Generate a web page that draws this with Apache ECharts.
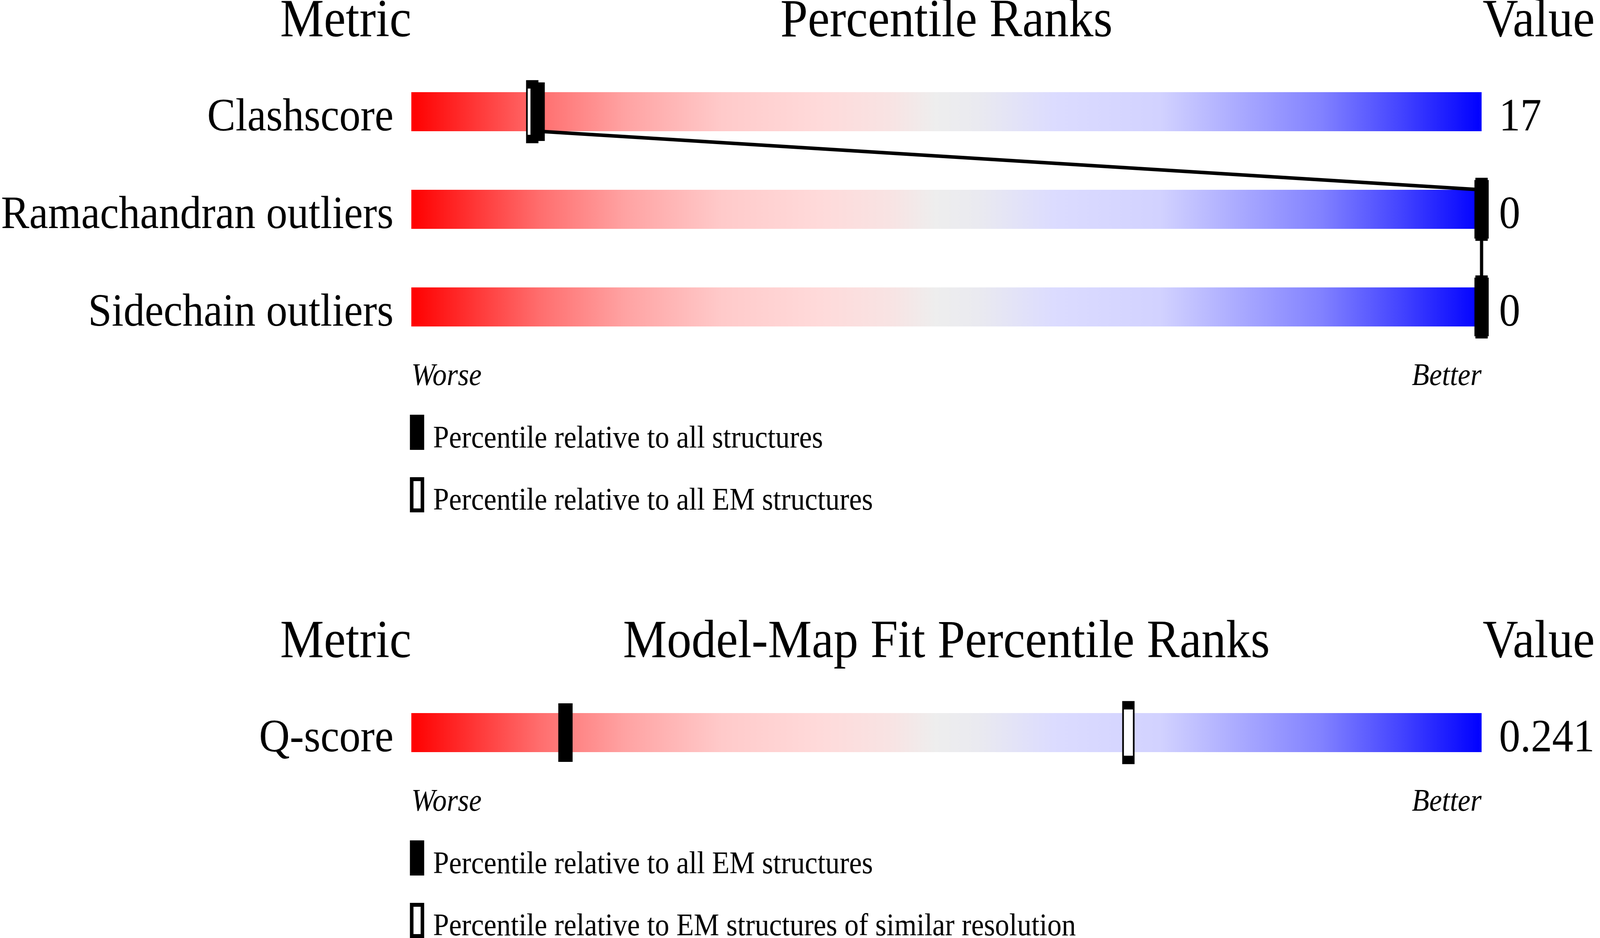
<!DOCTYPE html>
<html>
<head>
<meta charset="utf-8">
<script src="https://cdn.jsdelivr.net/npm/echarts@6/dist/echarts.min.js"></script>
<style>html,body{margin:0;padding:0;background:#fff;overflow:hidden}#c{width:4485px;height:2402px;transform-origin:0 0}</style>
</head>
<body>
<div id="c"></div>
<script>
// ---- data ----
const metricsTop = ['Clashscore', 'Ramachandran outliers', 'Sidechain outliers'];
const valuesTop = ['17', '0', '0'];
const pctAllTop = [11.8, 100, 100];      // percentile relative to all structures
const pctEmTop = [11.3, 100, 100];       // percentile relative to all EM structures
const metricsBottom = ['Q-score'];
const valuesBottom = ['0.241'];
const pctEmAllBottom = [14.4];           // relative to all EM structures
const pctEmResBottom = [67.0];           // relative to EM structures of similar resolution
const legendTop = ['Percentile relative to all structures', 'Percentile relative to all EM structures'];
const legendBottom = ['Percentile relative to all EM structures', 'Percentile relative to EM structures of similar resolution'];
const headersTop = ['Metric', 'Percentile Ranks', 'Value'];
const headersBottom = ['Metric', 'Model-Map Fit Percentile Ranks', 'Value'];
const axisEnds = ['Worse', 'Better'];

const FONT = "'Liberation Serif', 'Times New Roman', serif";
const gradient = {
  type: 'linear', x: 0, y: 0, x2: 1, y2: 0,
  colorStops: [
    {offset: 0, color: '#ff0000'},
    {offset: 0.12, color: '#ff6e6e'},
    {offset: 0.2, color: '#ffa3a3'},
    {offset: 0.29, color: '#ffcaca'},
    {offset: 0.38, color: '#ffdada'},
    {offset: 0.45, color: '#f8e4e4'},
    {offset: 0.49, color: '#eeeeee'},
    {offset: 0.53, color: '#eaeaf0'},
    {offset: 0.6, color: '#dcdcff'},
    {offset: 0.7, color: '#d2d2ff'},
    {offset: 0.77, color: '#acacff'},
    {offset: 0.85, color: '#8282ff'},
    {offset: 0.92, color: '#4848ff'},
    {offset: 1, color: '#0000ff'}
  ]
};

const el = document.getElementById('c');
// fit the 4485x2402 drawing to whatever viewport the page is photographed in
const vw = window.innerWidth || document.documentElement.clientWidth;
const vh = window.innerHeight || document.documentElement.clientHeight;
el.style.transform = 'scale(' + (vw / 4485) + ',' + (vh / 2402) + ')';

const chart = echarts.init(el, null, {renderer: 'canvas'});

function xAxisDef(gi) {
  return {
    type: 'value', gridIndex: gi, min: 0, max: 100, interval: 100,
    axisLine: {show: false}, axisTick: {show: false}, splitLine: {show: false},
    axisLabel: {
      show: true, margin: 54, verticalAlign: 'middle',
      fontFamily: FONT, fontSize: 80, fontStyle: 'italic', color: '#000',
      alignMinLabel: 'left', alignMaxLabel: 'right',
      formatter: v => v === 0 ? axisEnds[0] : (v === 100 ? axisEnds[1] : '')
    }
  };
}
function yAxisDef(gi, cats, right) {
  return {
    type: 'category', gridIndex: gi, data: cats, inverse: true,
    position: right ? 'right' : 'left',
    axisLine: {show: false}, axisTick: {show: false}, splitLine: {show: false},
    axisLabel: {
      interval: 0, margin: right ? 49 : 50, fontFamily: FONT, fontSize: 119, color: '#000',
      align: right ? 'left' : 'right', verticalAlign: 'top', lineHeight: 34
    }
  };
}

function connectorData(pcts) {
  const d = [];
  for (let i = 0; i < pcts.length - 1; i++) d.push([pcts[i], i, pcts[i + 1], i + 1]);
  return d;
}

function headerTexts(hs, cy) {
  const st = {font: '138px ' + FONT, fill: '#000', verticalAlign: 'middle'};
  return [
    {type: 'text', style: Object.assign({}, st, {text: hs[0], x: 1153, y: cy, align: 'right'})},
    {type: 'text', style: Object.assign({}, st, {text: hs[1], x: 2653, y: cy, align: 'center'})},
    {type: 'text', style: Object.assign({}, st, {text: hs[2], x: 4156, y: cy, align: 'left'})}
  ];
}
function legendItems(labels, y1, y2) {
  const st = {font: '80px ' + FONT, fill: '#000', verticalAlign: 'middle', align: 'left'};
  return [
    {type: 'rect', shape: {x: 1149, y: y1, width: 40, height: 90}, style: {fill: '#000'}},
    {type: 'text', style: Object.assign({}, st, {text: labels[0], x: 1214, y: y1 + 63})},
    {type: 'rect', shape: {x: 1154, y: y2 + 5, width: 30, height: 80}, style: {fill: '#fff', stroke: '#000', lineWidth: 10}},
    {type: 'text', style: Object.assign({}, st, {text: labels[1], x: 1214, y: y2 + 62})}
  ];
}

function connector(xi, yi, data) {
  return {
    type: 'custom', xAxisIndex: xi, yAxisIndex: yi, z: 3, silent: true,
    data: data,
    renderItem: function (params, api) {
      const p1 = api.coord([api.value(0), api.value(1)]);
      const p2 = api.coord([api.value(2), api.value(3)]);
      return {
        type: 'line',
        shape: {x1: p1[0], y1: p1[1] + 50, x2: p2[0], y2: p2[1] - 50},
        style: {stroke: '#000', lineWidth: 9}
      };
    }
  };
}

const option = {
  backgroundColor: '#fff',
  animation: false,
  grid: [
    {left: 1153, top: 161, width: 3000, height: 750, outerBoundsMode: 'none', containLabel: false},
    {left: 1153, top: 1751, width: 3000, height: 250, outerBoundsMode: 'none', containLabel: false}
  ],
  xAxis: [xAxisDef(0), xAxisDef(1)],
  yAxis: [
    yAxisDef(0, metricsTop, false),
    yAxisDef(0, valuesTop, true),
    yAxisDef(1, metricsBottom, false),
    yAxisDef(1, valuesBottom, true)
  ],
  series: [
    {type: 'bar', xAxisIndex: 0, yAxisIndex: 0, barWidth: 100, silent: true, z: 1,
     data: metricsTop.map(() => 100), itemStyle: {color: gradient}},
    connector(0, 0, connectorData(pctAllTop)),
    {type: 'scatter', name: legendTop[1], xAxisIndex: 0, yAxisIndex: 0, z: 4, silent: true,
     symbol: 'rect', symbolSize: [30, 140],
     itemStyle: {color: '#fff', borderColor: '#000', borderWidth: 10, opacity: 1},
     data: pctEmTop.map((p, i) => [p, i])},
    {type: 'scatter', name: legendTop[0], xAxisIndex: 0, yAxisIndex: 0, z: 5, silent: true,
     symbol: 'rect', symbolSize: [40, 150], itemStyle: {color: '#000', opacity: 1},
     data: pctAllTop.map((p, i) => [p, i])},

    {type: 'bar', xAxisIndex: 1, yAxisIndex: 2, barWidth: 100, silent: true, z: 1,
     data: metricsBottom.map(() => 100), itemStyle: {color: gradient}},
    {type: 'scatter', name: legendBottom[1], xAxisIndex: 1, yAxisIndex: 2, z: 4, silent: true,
     symbol: 'rect', symbolSize: [30, 140],
     itemStyle: {color: '#fff', borderColor: '#000', borderWidth: 10, opacity: 1},
     data: pctEmResBottom.map((p, i) => [p, i])},
    {type: 'scatter', name: legendBottom[0], xAxisIndex: 1, yAxisIndex: 2, z: 5, silent: true,
     symbol: 'rect', symbolSize: [40, 150], itemStyle: {color: '#000', opacity: 1},
     data: pctEmAllBottom.map((p, i) => [p, i])}
  ],
  graphic: [].concat(
    headerTexts(headersTop, 57),
    headerTexts(headersBottom, 1647),
    legendItems(legendTop, 1062, 1222),
    legendItems(legendBottom, 2152, 2312)
  )
};
chart.setOption(option);
</script>
</body>
</html>
